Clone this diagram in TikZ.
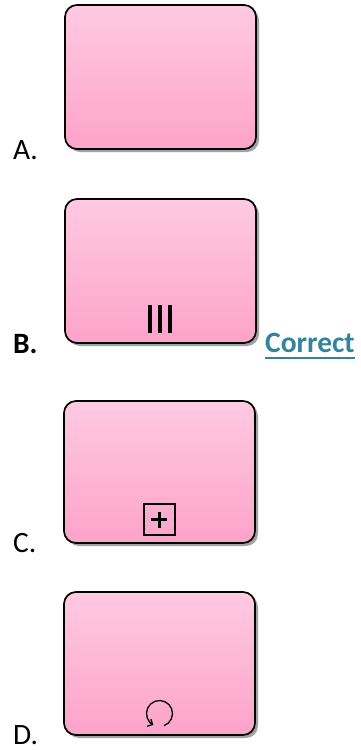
\documentclass[tikz,border=0pt]{standalone}
\usepackage{fontspec}
\setmainfont{Carlito}
\usetikzlibrary{arrows.meta,shadows}
\definecolor{pinktop}{RGB}{255,202,225}
\definecolor{pinkbot}{RGB}{253,163,202}
\definecolor{correctc}{RGB}{49,132,155}
\tikzset{
  taskbox/.style={draw=black, line width=1.7pt, rounded corners=12pt,
    top color=pinktop, bottom color=pinkbot,
    drop shadow={shadow xshift=3pt, shadow yshift=-3pt, fill=black!40, opacity=0.9}},
  lbl/.style={anchor=base west, inner sep=0pt, font=\fontsize{29.5}{34}\selectfont},
  barmark/.style={line width=4pt},
}
\begin{document}
\begin{tikzpicture}[x=1pt,y=1pt]
\useasboundingbox (0,0) rectangle (361,-750);
% A
\path[taskbox] (65,-5) rectangle (256,-149);
\coordinate (boxA) at (160.5,-77);
\node[lbl] (la) at (13,-159) {A.};
% B
\path[taskbox] (65,-199) rectangle (256,-343);
\coordinate (boxB) at (160.5,-271);
\draw[barmark] (150,-305) -- (150,-333);
\draw[barmark] (160,-305) -- (160,-333);
\draw[barmark] (170,-305) -- (170,-333);
\node[lbl, font=\fontsize{29.5}{34}\selectfont\bfseries] (lb) at (13,-353) {B.};
\node[lbl, font=\fontsize{29.5}{34}\selectfont\bfseries, text=correctc] (corr) at (265,-352) {Correct};
\draw[correctc, line width=1.4pt] ([yshift=-6pt]corr.base west) -- ([yshift=-6pt]corr.base east);
% C
\path[taskbox] (64,-401) rectangle (255,-543);
\coordinate (boxC) at (159.5,-472);
\draw[line width=1.1pt] (144,-504) rectangle (175,-535);
\draw[line width=3pt] (151,-519.5) -- (167,-519.5);
\draw[line width=3pt] (159,-511.5) -- (159,-527.5);
\node[lbl] (lc) at (13,-552) {C.};
% D
\path[taskbox] (64,-592) rectangle (255,-735);
\coordinate (boxD) at (159.5,-663);
\draw[line width=1.3pt, -{Straight Barb[length=4pt,width=8pt]}]
  (159.5,-713.5) ++(-70:13) arc[start angle=-70, end angle=242, radius=13];
\node[lbl] (ld) at (13,-744) {D.};
\end{tikzpicture}
\end{document}
